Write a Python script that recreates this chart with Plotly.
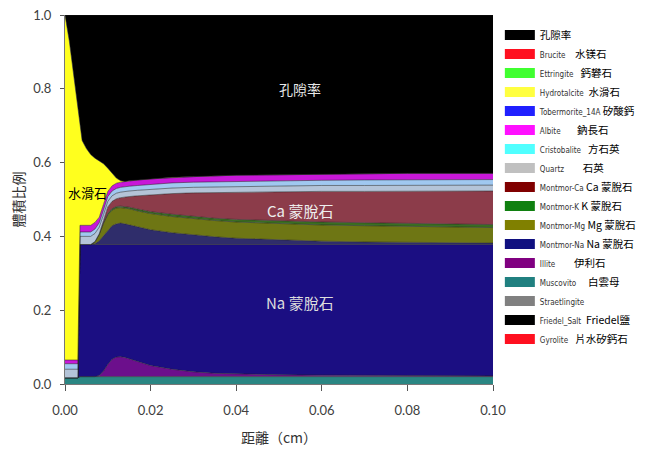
import plotly.graph_objects as go

# distance (cm)
x_cm = [0, 0.001, 0.002, 0.003, 0.0035, 0.004, 0.005, 0.006, 0.007, 0.008,
        0.009, 0.010, 0.011, 0.012, 0.013, 0.014, 0.015, 0.017, 0.020, 0.025,
        0.030, 0.035, 0.040, 0.050, 0.060, 0.070, 0.080, 0.090, 0.100]

# volume fractions (stacked from bottom)
muscovite = [0.017, 0.017, 0.017, 0.017] + [0.020] * 25
illite = [0, 0, 0, 0, 0, 0, 0, 0, 0, 0.003, 0.015, 0.033, 0.047, 0.053, 0.054,
          0.052, 0.048, 0.040, 0.030, 0.020, 0.013, 0.009, 0.007, 0.005, 0.004,
          0.003, 0.003, 0.002, 0.002]
montmor_na = [0, 0, 0, 0, 0.358, 0.358, 0.358, 0.358, 0.358, 0.355, 0.343, 0.325,
              0.311, 0.305, 0.304, 0.306, 0.310, 0.318, 0.328, 0.338, 0.345, 0.349,
              0.351, 0.353, 0.354, 0.355, 0.355, 0.356, 0.356]
montmor_na_upper = [0] * 8 + [0.002, 0.010, 0.024, 0.040, 0.051, 0.056, 0.058, 0.056,
                              0.053, 0.047, 0.040, 0.032, 0.026, 0.021, 0.017, 0.012,
                              0.009, 0.007, 0.006, 0.005, 0.004]
montmor_mg = [0] * 8 + [0.005, 0.017, 0.033, 0.040, 0.042, 0.043, 0.042, 0.043, 0.044,
                        0.044, 0.044, 0.044, 0.044, 0.044, 0.044, 0.044, 0.044, 0.044,
                        0.043, 0.042, 0.042]
montmor_k = [0] * 8 + [0.001, 0.002, 0.003, 0.004, 0.004, 0.004, 0.004, 0.004, 0.004,
                       0.005, 0.005, 0.006, 0.006, 0.006, 0.007, 0.008, 0.008, 0.008,
                       0.008, 0.008, 0.008]
montmor_ca = [0] * 10 + [0.005, 0.018, 0.020, 0.021, 0.023, 0.026, 0.029, 0.036, 0.046,
                         0.056, 0.064, 0.070, 0.074, 0.079, 0.083, 0.085, 0.088, 0.090,
                         0.091]
quartz = [0.023] * 4 + [0.022] * 5 + [0.018, 0.016] + [0.015] * 11 + [0.016] * 7
cristobalite = [0.015] * 4 + [0.012] * 6 + [0.013] * 9 + [0.014] * 6 + [0.015] * 4
albite = [0.010] * 4 + [0.018] * 5 + [0.015, 0.015] + [0.014] * 5 + [0.015] * 5 + \
         [0.016] * 3 + [0.017] * 5
hydrotalcite = [0.935, 0.865, 0.775, 0.685, 0.275, 0.230, 0.208, 0.192, 0.174, 0.153,
                0.110, 0.063, 0.033, 0.014, 0.004] + [0] * 14
porosity = [0, 0.07, 0.16, 0.25, 0.295, 0.34, 0.362, 0.378, 0.388, 0.395, 0.403, 0.415,
            0.430, 0.442, 0.449, 0.451, 0.449, 0.447, 0.444, 0.440, 0.438, 0.436, 0.434,
            0.433, 0.431, 0.430, 0.429, 0.429, 0.429]

# legend entries
legend_en = ["", "Brucite", "Ettringite", "Hydrotalcite", "Tobermorite_14A", "Albite",
             "Cristobalite", "Quartz", "Montmor-Ca", "Montmor-K", "Montmor-Mg",
             "Montmor-Na", "Illite", "Muscovito", "Straetlingite", "Friedel_Salt", "Gyrolite"]
legend_zh = ["孔隙率", "水镁石", "鈣礬石", "水滑石", "矽酸鈣", "鈉長石", "方石英", "石英",
             "Ca 蒙脫石", "K 蒙脫石", "Mg 蒙脫石", "Na 蒙脫石", "伊利石", "白雲母", "",
             "Friedel鹽", "片水矽鈣石"]
legend_colors = ["#000000", "#ff1020", "#40ff30", "#ffff40", "#2020ff", "#ff10ff",
                 "#50ffff", "#c0c0c0", "#800000", "#108010", "#808000", "#101080",
                 "#800080", "#208080", "#808080", "#000000", "#ff1020"]
legend_gap = [0, 3, 2, 1, 0, 6, 2, 7, 0, 0, 0, 0, 7, 4, 0, 1, 2]

fig = go.Figure()

layers = [
    (muscovite, "#2a8683"),
    (illite, "#6c0f8c"),
    (montmor_na, "#1b0e82"),
    (montmor_na_upper, "#2f2d6b"),
    (montmor_mg, "#6e7614"),
    (montmor_k, "#3a6e22"),
    (montmor_ca, "#8c3c4a"),
    (quartz, "#b4c4d8"),
    (cristobalite, "#a0c8f0"),
    (albite, "#c818d8"),
    (hydrotalcite, "#ffff1e"),
    (porosity, "#000000"),
]
for vals, col in layers:
    fig.add_trace(go.Scatter(
        x=x_cm, y=vals, stackgroup="one", mode="lines",
        line=dict(width=0.7, color="rgba(30,30,30,0.75)"),
        fillcolor=col, showlegend=False, hoverinfo="skip"))

nb = "\u00a0"
en_font = "DejaVu Sans Condensed, Liberation Sans Narrow, Lato"
for en, zh, col, gap in zip(legend_en, legend_zh, legend_colors, legend_gap):
    if en:
        label = (f"<span style='font-family:{en_font};font-size:8px;color:#333'>{en}</span>"
                 f"{nb * (1 + gap)}{zh}")
    else:
        label = zh
    fig.add_trace(go.Scatter(
        x=[None], y=[None], mode="lines", name=label,
        line=dict(width=10, color=col), hoverinfo="skip"))

ann_font = "Noto Sans CJK TC"
fig.add_annotation(x=0.055, y=0.80, text="孔隙率", showarrow=False,
                   font=dict(family=ann_font, size=14, color="#e8e8e8"))
fig.add_annotation(x=0.055, y=0.47, text="Ca 蒙脫石", showarrow=False,
                   font=dict(family=ann_font, size=15, color="#eeeeee"))
fig.add_annotation(x=0.055, y=0.22, text="Na 蒙脫石", showarrow=False,
                   font=dict(family=ann_font, size=15, color="#dddddd"))
fig.add_annotation(x=0.0052, y=0.518, text="水滑石", showarrow=False,
                   font=dict(family=ann_font, size=13, color="#000000"))

fig.update_layout(
    width=638, height=443,
    margin=dict(l=57, r=153, t=7, b=67, autoexpand=False),
    paper_bgcolor="white", plot_bgcolor="white",
    font=dict(family="Lato, Noto Sans CJK TC", size=12, color="#404040"),
    legend=dict(x=1.016, y=0.985, xanchor="left", yanchor="top",
                bgcolor="rgba(0,0,0,0)", traceorder="normal",
                font=dict(family="Noto Sans CJK TC", size=10.5, color="#000000"),
                itemwidth=30),
    xaxis=dict(range=[0, 0.1], tickvals=[0, 0.02, 0.04, 0.06, 0.08, 0.1],
               tickformat=".2f", ticks="outside", ticklen=6, tickcolor="#555",
               showline=True, linecolor="#777", linewidth=1, showgrid=False,
               zeroline=False, tickfont=dict(size=13, color="#404040"),
               ticklabelstandoff=8, ticklabeloverflow="allow", automargin=False,
               title=dict(text="距離（cm）", standoff=16,
                          font=dict(family="Noto Sans CJK TC", size=14, color="#333"))),
    yaxis=dict(range=[0, 1], tickvals=[0, 0.2, 0.4, 0.6, 0.8, 1.0],
               tickformat=".1f", ticks="outside", ticklen=4, tickcolor="#555",
               showline=True, linecolor="#777", linewidth=1, showgrid=False,
               zeroline=False, tickfont=dict(size=13, color="#404040"),
               ticklabelstandoff=6, ticklabeloverflow="allow", automargin=False,
               title=dict(text="體積比例", standoff=8,
                          font=dict(family="Noto Sans CJK TC", size=14, color="#333"))),
)

fig.write_html("out.html")
